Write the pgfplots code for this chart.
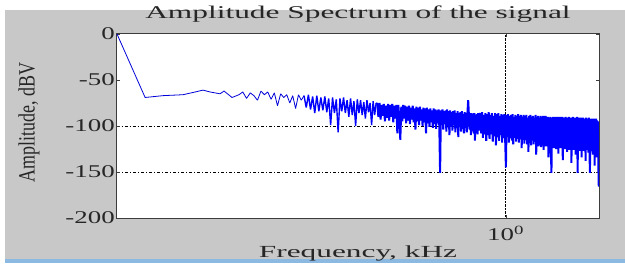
\documentclass[border=0pt]{standalone}
\usepackage{pgfplots}
\pgfplotsset{compat=1.18}
\usepackage{fontspec}
\setmainfont{Liberation Serif}
\usepackage{graphicx}
\definecolor{figgrey}{RGB}{200,200,200}
\definecolor{stripblue}{RGB}{140,185,225}
\definecolor{axdark}{RGB}{60,60,60}
\newcommand\sx[1]{\scalebox{1.5}[1]{#1}}
\begin{document}
\begin{tikzpicture}[x=1bp,y=1bp]
\useasboundingbox (0,0) rectangle (625,263);
\fill[white] (0,0) rectangle (625,263);
\fill[figgrey] (5,4) rectangle (625,253);
\fill[stripblue] (5,0) rectangle (625,4);
\begin{axis}[
  at={(117bp,45bp)}, anchor=south west,
  scale only axis, width=482bp, height=184bp,
  xmode=log, xmin=0.125, xmax=1.647,
  ymin=-200, ymax=0,
  axis background/.style={fill=white},
  axis line style={axdark, line width=1bp},
  xtick={1}, xticklabels={\sx{10\textsuperscript{0}}}, minor xtick={},
  xmajorgrids=true,
  major grid style={black, densely dotted, line width=0.6bp},
  ytick={-200,-150,-100,-50,0},
  yticklabels={\sx{-200},\sx{-150},\sx{-100},\sx{-50},\sx{0}},
  extra y ticks={-150,-100},
  extra y tick labels={{},{}},
  extra y tick style={grid=major, major grid style={black, dash pattern=on 3bp off 2bp on 1bp off 2bp, line width=0.6bp}},
  tick align=inside, major tick length=3bp, tick style={axdark},
  ticklabel style={font=\fontsize{18}{18}\selectfont, text=black!85},
  yticklabel style={inner sep=1bp, xshift=-1bp},
  xticklabel style={inner sep=0bp, yshift=-8bp},
  title={\scalebox{1.75}[1]{Amplitude Spectrum of the signal}},
  title style={font=\fontsize{18}{18}\selectfont, text=black!85, at={(axis description cs:0.5,1)}, anchor=base, yshift=10bp, inner sep=0pt},
  xlabel={\scalebox{1.85}[1]{Frequency, kHz}},
  xlabel style={font=\fontsize{17}{17}\selectfont, text=black!85, at={(axis description cs:0.5,0)}, anchor=base, yshift=-39bp, inner sep=0pt},
  ylabel={\scalebox{1}[1.3]{Amplitude, dBV}},
  ylabel style={font=\fontsize{18}{18}\selectfont, text=black!85, at={(axis description cs:-0.1826,0.52)}, anchor=center, inner sep=0pt},
]
% low-frequency part (sparse bins)
\addplot[blue!85!black, line width=0.8bp, line join=bevel] coordinates {
(0.125,0) (0.1453,-69) (0.160,-67) (0.1779,-66) (0.190,-63) (0.198,-61) (0.2056,-63) (0.2169,-65) (0.2216,-62) (0.2313,-69)
(0.240,-66) (0.245,-63) (0.250,-70) (0.255,-64) (0.260,-67) (0.265,-72) (0.270,-62) (0.275,-66) (0.280,-63) (0.285,-71)
(0.290,-64) (0.295,-78) (0.300,-65) (0.305,-69) (0.310,-66) (0.315,-75) (0.320,-67) (0.325,-81) (0.330,-66) (0.335,-72)
(0.340,-67)
};
% mid part
\addplot[blue, line width=1.4bp, line join=bevel] coordinates {
(0.340,-67) (0.344,-80) (0.348,-66) (0.352,-82) (0.356,-68) (0.360,-86) (0.364,-67) (0.368,-84) (0.372,-69) (0.376,-83)
(0.380,-68) (0.384,-85) (0.388,-70) (0.392,-99) (0.396,-69) (0.400,-86) (0.404,-71) (0.408,-107) (0.412,-70) (0.416,-84)
(0.420,-69) (0.424,-86) (0.428,-72) (0.432,-90) (0.436,-70) (0.440,-88) (0.444,-73) (0.448,-100) (0.452,-71) (0.456,-86)
(0.460,-72) (0.464,-88) (0.468,-74) (0.472,-92) (0.476,-72) (0.480,-85) (0.484,-75) (0.488,-99) (0.492,-73) (0.496,-88)
(0.500,-75)
};
% high-frequency part (dense bins)
\addplot[blue, line width=2bp, line join=bevel] coordinates {
(0.500,-75)
(0.503,-76) (0.506,-90) (0.509,-75) (0.512,-93) (0.515,-77) (0.518,-89) (0.521,-76) (0.524,-95) (0.527,-78) (0.530,-91)
(0.533,-76) (0.536,-94) (0.539,-77) (0.542,-90) (0.545,-76) (0.548,-96) (0.551,-78) (0.554,-92) (0.557,-77) (0.560,-108)
(0.563,-77) (0.566,-93) (0.569,-115) (0.572,-79) (0.575,-95) (0.578,-77) (0.581,-92) (0.584,-78) (0.587,-97) (0.590,-79)
(0.593,-94) (0.596,-78) (0.599,-98) (0.602,-80) (0.605,-93) (0.608,-78) (0.611,-96) (0.614,-81) (0.617,-104) (0.620,-79)
(0.623,-95) (0.626,-80) (0.629,-99) (0.632,-79) (0.635,-94) (0.638,-82) (0.641,-100) (0.644,-80) (0.647,-96) (0.650,-81)
(0.653,-108) (0.656,-80) (0.659,-97) (0.662,-82) (0.665,-101) (0.668,-81) (0.671,-96) (0.674,-83) (0.677,-102) (0.680,-81)
(0.683,-98) (0.686,-82) (0.689,-103) (0.692,-83) (0.695,-97) (0.698,-82) (0.701,-100) (0.704,-151) (0.707,-83) (0.710,-99)
(0.713,-82) (0.716,-104) (0.719,-84) (0.722,-98) (0.725,-83) (0.728,-106) (0.731,-82) (0.734,-100) (0.737,-84) (0.740,-110)
(0.743,-83) (0.746,-101) (0.749,-85) (0.752,-105) (0.755,-84) (0.758,-99) (0.761,-83) (0.764,-107) (0.767,-86) (0.770,-102)
(0.773,-84) (0.776,-112) (0.779,-86) (0.782,-101) (0.785,-85) (0.788,-106) (0.791,-84) (0.794,-103) (0.797,-87) (0.800,-108)
(0.803,-85) (0.806,-102) (0.809,-86) (0.812,-107) (0.815,-85) (0.818,-72) (0.821,-87) (0.824,-104) (0.827,-86) (0.830,-110)
(0.833,-86) (0.836,-103) (0.839,-87) (0.842,-108) (0.845,-86) (0.848,-116) (0.851,-88) (0.854,-104) (0.857,-87) (0.860,-109)
(0.863,-86) (0.866,-105) (0.869,-88)
(0.873,-86) (0.877,-108) (0.881,-85) (0.885,-113) (0.889,-88) (0.893,-109) (0.897,-86) (0.901,-116) (0.905,-87) (0.909,-110)
(0.913,-85) (0.917,-114) (0.921,-88) (0.925,-109) (0.929,-86) (0.933,-117) (0.937,-89) (0.941,-111) (0.945,-86) (0.949,-121)
(0.953,-87) (0.957,-112) (0.961,-86) (0.965,-116) (0.969,-89) (0.973,-110) (0.977,-87) (0.981,-118) (0.985,-88) (0.989,-113)
(0.993,-87) (0.997,-115) (1.001,-145) (1.005,-88) (1.009,-112) (1.013,-87) (1.017,-118) (1.021,-89) (1.025,-113) (1.029,-88)
(1.033,-116) (1.037,-87) (1.041,-120) (1.045,-90) (1.049,-113) (1.053,-88) (1.057,-117) (1.061,-89) (1.065,-114) (1.069,-87)
(1.073,-118) (1.077,-89) (1.081,-114) (1.085,-88) (1.089,-124) (1.093,-90) (1.097,-115) (1.101,-88) (1.105,-119) (1.109,-89)
(1.113,-115) (1.117,-88) (1.121,-120) (1.125,-91) (1.129,-128) (1.133,-89) (1.137,-116) (1.141,-88) (1.145,-121) (1.149,-90)
(1.153,-116) (1.157,-89) (1.161,-120) (1.165,-91) (1.169,-117) (1.173,-88) (1.177,-131) (1.181,-90) (1.185,-118) (1.189,-89)
(1.193,-122) (1.197,-91) (1.201,-117) (1.205,-89) (1.209,-123) (1.213,-90) (1.217,-118) (1.221,-89) (1.225,-126) (1.229,-92)
(1.233,-118) (1.237,-89) (1.241,-122) (1.245,-91) (1.249,-119) (1.253,-90) (1.257,-134) (1.261,-91) (1.265,-119) (1.269,-90)
(1.273,-123) (1.277,-151) (1.281,-91) (1.285,-120) (1.289,-90) (1.293,-124) (1.297,-92) (1.301,-119) (1.305,-90) (1.309,-125)
(1.313,-91) (1.317,-121) (1.321,-90) (1.325,-130) (1.329,-92) (1.333,-120) (1.337,-90) (1.341,-124) (1.345,-91) (1.349,-121)
(1.353,-90) (1.357,-137) (1.361,-92) (1.365,-121) (1.369,-91) (1.373,-125) (1.377,-90) (1.381,-122) (1.385,-92) (1.389,-128)
(1.393,-91) (1.397,-122) (1.401,-90) (1.405,-126) (1.409,-93) (1.413,-123) (1.417,-91) (1.421,-140) (1.425,-92) (1.429,-122)
(1.433,-90) (1.437,-126) (1.441,-93) (1.445,-123) (1.449,-91) (1.453,-131) (1.457,-92) (1.461,-123) (1.465,-90) (1.469,-151)
(1.473,-92) (1.477,-124) (1.481,-91) (1.485,-127) (1.489,-93) (1.493,-123) (1.497,-91) (1.501,-134) (1.505,-92) (1.509,-124)
(1.513,-91) (1.517,-127) (1.521,-93) (1.525,-124) (1.529,-92) (1.533,-138) (1.537,-91) (1.541,-126) (1.545,-93) (1.549,-124)
(1.553,-92) (1.557,-129) (1.561,-91) (1.565,-125) (1.569,-151) (1.573,-93) (1.577,-127) (1.581,-92) (1.585,-125) (1.589,-92)
(1.593,-131) (1.597,-93) (1.601,-126) (1.605,-92) (1.609,-143) (1.613,-93) (1.617,-127) (1.621,-92) (1.625,-134) (1.629,-94)
(1.633,-128) (1.637,-95) (1.641,-140) (1.645,-166)
};
\end{axis}
\end{tikzpicture}
\end{document}
